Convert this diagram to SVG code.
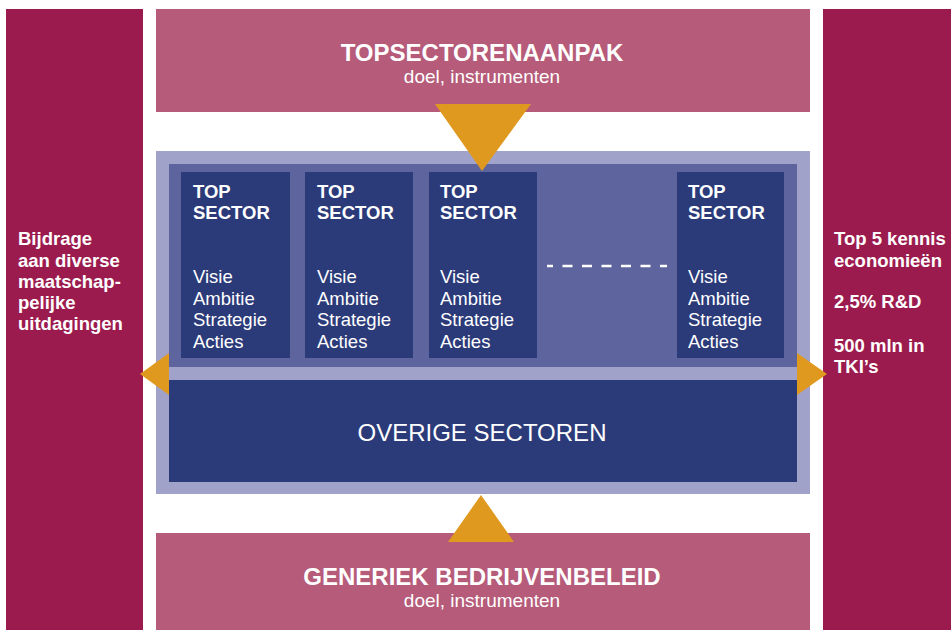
<svg xmlns="http://www.w3.org/2000/svg" width="951" height="630" viewBox="0 0 951 630">
<style>
.bar{fill:#9c1b4e}
.pink{fill:#b65b79}
.lav{fill:#a0a2c9}
.mid{fill:#5e659e}
.navy{fill:#2b3a79}
.arrow{fill:#e0991f}
text{font-family:"Liberation Sans",Arial,sans-serif;fill:#ffffff}
.b{font-weight:bold;font-size:18.5px}
.r{font-size:18.5px}
.title{font-weight:bold;font-size:24px;text-anchor:middle}
.sub{font-size:19px;text-anchor:middle}
.big{font-size:24px;text-anchor:middle}
</style>
<rect width="951" height="630" fill="#ffffff"/>
<g id="left-bar">
<rect class="bar" x="6" y="9" width="137" height="621"/>
<text class="b" x="18"><tspan x="18" y="245">Bijdrage</tspan><tspan x="18" y="266.5">aan diverse</tspan><tspan x="18" y="288">maatschap-</tspan><tspan x="18" y="309">pelijke</tspan><tspan x="18" y="330">uitdagingen</tspan></text>
</g>
<g id="right-bar">
<rect class="bar" x="823" y="9" width="128" height="621"/>
<text class="b"><tspan x="834" y="245">Top 5 kennis</tspan><tspan x="834" y="266.5">economieën</tspan><tspan x="834" y="308">2,5% R&amp;D</tspan><tspan x="834" y="352">500 mln in</tspan><tspan x="834" y="373">TKI’s</tspan></text>
</g>
<g id="topsectorenaanpak">
<rect class="pink" x="156" y="9" width="654" height="103"/>
<text class="title" x="482" y="61">TOPSECTORENAANPAK</text>
<text class="sub" x="482" y="83">doel, instrumenten</text>
</g>
<g id="generiek">
<rect class="pink" x="156" y="533" width="654" height="97"/>
<text class="title" x="482" y="585">GENERIEK BEDRIJVENBELEID</text>
<text class="sub" x="482" y="607">doel, instrumenten</text>
</g>
<g id="sectoren-frame">
<rect class="lav" x="156" y="151" width="654" height="343"/>
<rect class="mid" x="169" y="164" width="628" height="203"/>
</g>
<g id="overige-sectoren">
<rect class="navy" x="169" y="380" width="628" height="102"/>
<text class="big" x="482" y="441">OVERIGE SECTOREN</text>
</g>
<g id="topsector-1">
<rect class="navy" x="181" y="172" width="109" height="186"/>
<text class="b"><tspan x="193" y="198">TOP</tspan><tspan x="193" y="219">SECTOR</tspan></text>
<text class="r"><tspan x="193" y="283">Visie</tspan><tspan x="193" y="304.5">Ambitie</tspan><tspan x="193" y="326">Strategie</tspan><tspan x="193" y="347.5">Acties</tspan></text>
</g>
<g id="topsector-2">
<rect class="navy" x="305" y="172" width="108" height="186"/>
<text class="b"><tspan x="317" y="198">TOP</tspan><tspan x="317" y="219">SECTOR</tspan></text>
<text class="r"><tspan x="317" y="283">Visie</tspan><tspan x="317" y="304.5">Ambitie</tspan><tspan x="317" y="326">Strategie</tspan><tspan x="317" y="347.5">Acties</tspan></text>
</g>
<g id="topsector-3">
<rect class="navy" x="429" y="172" width="108" height="186"/>
<text class="b"><tspan x="440" y="198">TOP</tspan><tspan x="440" y="219">SECTOR</tspan></text>
<text class="r"><tspan x="440" y="283">Visie</tspan><tspan x="440" y="304.5">Ambitie</tspan><tspan x="440" y="326">Strategie</tspan><tspan x="440" y="347.5">Acties</tspan></text>
</g>
<g id="topsector-4">
<rect class="navy" x="677" y="172" width="107" height="186"/>
<text class="b"><tspan x="688" y="198">TOP</tspan><tspan x="688" y="219">SECTOR</tspan></text>
<text class="r"><tspan x="688" y="283">Visie</tspan><tspan x="688" y="304.5">Ambitie</tspan><tspan x="688" y="326">Strategie</tspan><tspan x="688" y="347.5">Acties</tspan></text>
</g>
<g id="ellipsis">
<line x1="547" y1="266" x2="667" y2="266" stroke="#ffffff" stroke-width="2.5" stroke-dasharray="10,9.5" stroke-dashoffset="4"/>
</g>
<g id="connectors">
<polygon class="arrow" points="435,104 531,104 482,171"/>
<polygon class="arrow" points="448,542 514,542 481,495"/>
<polygon class="arrow" points="169,353 169,395 140,374"/>
<polygon class="arrow" points="797,353 797,395 827,374"/>
</g>
</svg>
